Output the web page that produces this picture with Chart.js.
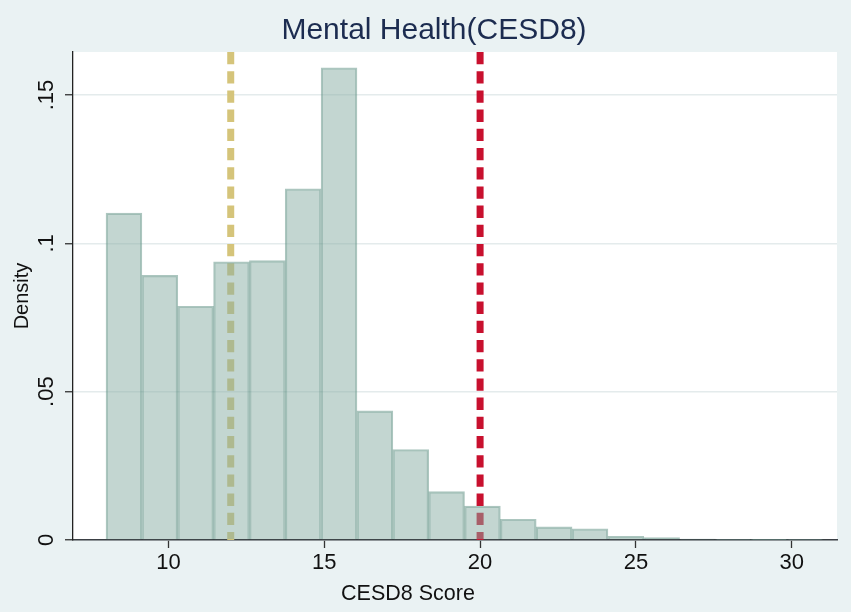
<!DOCTYPE html>
<html>
<head>
<meta charset="utf-8">
<script src="https://cdn.jsdelivr.net/npm/chart.js@4.4.1/dist/chart.umd.min.js"></script>
<style>
  html, body { margin: 0; padding: 0; background: #eaf2f3; }
  #wrap { width: 851px; height: 612px; }
</style>
</head>
<body>
<div id="wrap"><canvas id="graficoCESD8" width="851" height="612"></canvas></div>
<script>
// bin centres of the histogram (bin width 1.15, from 8 to 31)
var binCenters = [8.575, 9.725, 10.875, 12.025, 13.175, 14.325, 15.475, 16.625, 17.775, 18.925,
                  20.075, 21.225, 22.375, 23.525, 24.675, 25.825, 26.975, 28.125, 29.275, 30.425];
var densidad   = [0.1102, 0.0892, 0.0788, 0.0938, 0.0942, 0.1184, 0.1592, 0.0435, 0.0305, 0.0163,
                  0.0114, 0.0070, 0.0044, 0.0038, 0.0012, 0.0008, 0.0003, 0.0002, 0.0001, 0.0002];
var lineaMedia = 12;   // khaki dashed line
var lineaCorte = 20;   // red dashed line
var xTicks = [10, 15, 20, 25, 30];
var yTickValues = [0, 0.05, 0.1, 0.15];
var yTickLabels = ['0', '.05', '.1', '.15'];
var X_MIN = 6.94, X_MAX = 31.45, Y_MAX = 0.1645;

var TITULO = 'Mental Health(CESD8)';
var TITULO_X = 'CESD8 Score';
var TITULO_Y = 'Density';

var FUENTE = '"Liberation Sans", Arial, sans-serif';

/* fondo blanco del area del grafico */
var fondoPlot = {
    id: 'fondoPlot',
    beforeDraw: function (chart) {
        var a = chart.chartArea, c = chart.ctx;
        c.save();
        c.fillStyle = '#ffffff';
        c.fillRect(a.left, a.top, a.right - a.left, a.bottom - a.top);
        c.restore();
    }
};

/* titulo principal y titulo del eje x (centrados como en Stata) */
var titulos = {
    id: 'titulos',
    afterDraw: function (chart) {
        var c = chart.ctx;
        c.save();
        c.textAlign = 'center';
        c.textBaseline = 'alphabetic';
        c.fillStyle = '#1c2c50';
        c.font = '30px ' + FUENTE;
        c.fillText(TITULO, 434, 39);
        c.fillStyle = '#111';
        c.font = '21.5px ' + FUENTE;
        c.fillText(TITULO_X, 408, 600);
        c.restore();
    }
};

function lineaVertical(x, color, order) {
    return {
        type: 'line',
        data: [{ x: x, y: Y_MAX }, { x: x, y: 0 }],
        borderColor: color,
        borderWidth: 7,
        borderDash: [12.3, 6.9],
        borderCapStyle: 'butt',
        pointRadius: 0,
        fill: false,
        clip: false,
        order: order
    };
}

var ctx = document.getElementById('graficoCESD8');
var _chartCESD = new Chart(ctx, {
    type: 'bar',
    data: {
        datasets: [
            {
                type: 'bar',
                label: 'Density',
                data: binCenters.map(function (c, i) { return { x: c, y: densidad[i] }; }),
                backgroundColor: 'rgba(135,173,163,0.5)',
                borderColor: 'rgba(90,142,128,0.5)',
                borderWidth: 1.5,
                barPercentage: 1,
                categoryPercentage: 1,
                order: 1
            },
            lineaVertical(lineaMedia, '#d5c47a', 2),
            lineaVertical(lineaCorte, '#c8102e', 3)
        ]
    },
    plugins: [fondoPlot, titulos],
    options: {
        responsive: false,
        animation: false,
        devicePixelRatio: 1,
        layout: { padding: { left: 0, right: 14, top: 52, bottom: 0 } },
        plugins: {
            legend: { display: false },
            tooltip: { enabled: false },
            title: { display: false }
        },
        scales: {
            x: {
                type: 'linear',
                min: X_MIN, max: X_MAX,
                offset: false,
                afterBuildTicks: function (s) { s.ticks = xTicks.map(function (v) { return { value: v }; }); },
                afterFit: function (s) { s.height = 72; },
                grid: { offset: false, drawOnChartArea: false, drawTicks: true, tickLength: 8, tickColor: '#333', tickWidth: 1.3 },
                border: { display: true, color: '#3a3f44', width: 1.6 },
                ticks: { color: '#111', font: { family: FUENTE, size: 22 }, padding: 2, maxRotation: 0 },
                title: { display: false, text: TITULO_X }
            },
            y: {
                min: 0, max: Y_MAX,
                afterBuildTicks: function (s) { s.ticks = yTickValues.map(function (v) { return { value: v }; }); },
                afterFit: function (s) { s.width = 73; },
                grid: { color: '#e4ebec', lineWidth: 1.5, drawTicks: true, tickLength: 8, tickColor: '#333', tickWidth: 1.3 },
                border: { display: true, color: '#222', width: 1.3 },
                ticks: {
                    color: '#111',
                    font: { family: FUENTE, size: 22 },
                    padding: 3,
                    minRotation: 90, maxRotation: 90,
                    crossAlign: 'center',
                    callback: function (v) {
                        var i = yTickValues.indexOf(v);
                        return i >= 0 ? yTickLabels[i] : '';
                    }
                },
                title: { display: true, text: TITULO_Y, color: '#111', font: { family: FUENTE, size: 20 }, padding: { top: 10, bottom: 0 } }
            }
        }
    }
});
</script>
</body>
</html>
